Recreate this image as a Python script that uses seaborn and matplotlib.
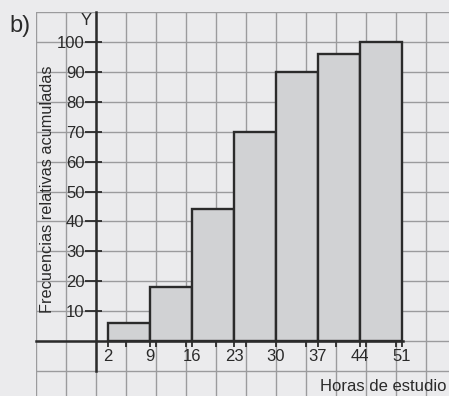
import numpy as np
import seaborn as sns
import matplotlib.pyplot as plt

# datos del histograma (frecuencias relativas acumuladas, %)
bin_edges = [2, 9, 16, 23, 30, 37, 44, 51]
cum_freq = [6, 18, 44, 70, 90, 96, 100]
y_ticks = [10, 20, 30, 40, 50, 60, 70, 80, 90, 100]

BG = '#ebebed'
GRID = '#9b9b9d'
BAR = '#d1d2d4'
DARK = '#2b2b2b'
TXT = '#2a2a2a'


def main():
    sns.set_style('white')
    plt.rcParams['font.family'] = ['Liberation Sans', 'DejaVu Sans']

    fig = plt.figure(figsize=(4.49, 3.96), dpi=100, facecolor=BG)
    ax = fig.add_axes([36 / 449, 0, 413 / 449, 384 / 396])
    ax.set_facecolor(BG)
    ax.set_xlim(-10, -10 + 413 / 6)
    ax.set_ylim(-18.33, 110)

    # cuadricula de papel milimetrado
    for gx in range(-10, 60, 5):
        ax.axvline(gx, color=GRID, lw=1, zorder=0)
    for gy in range(-10, 111, 10):
        ax.axhline(gy, color=GRID, lw=1, zorder=0)

    mids = [(a + b) / 2 for a, b in zip(bin_edges[:-1], bin_edges[1:])]
    sns.histplot(x=mids, weights=cum_freq, bins=bin_edges, ax=ax,
                 color=BAR, edgecolor=DARK, linewidth=1.7, alpha=1, zorder=2)
    ax.set_ylabel('')

    # ejes
    for s in ['top', 'right']:
        ax.spines[s].set_visible(False)
    ax.spines['left'].set_position(('data', 0))
    ax.spines['bottom'].set_position(('data', 0))
    ax.spines['left'].set_bounds(-10, 110)
    ax.spines['bottom'].set_bounds(-10, 51.2)
    for s in ['left', 'bottom']:
        ax.spines[s].set_color(DARK)
        ax.spines[s].set_linewidth(1.8)
        ax.spines[s].set_zorder(3)

    ax.set_xticks(bin_edges)
    ax.set_xticks(list(range(5, 51, 5)), minor=True)
    ax.set_yticks(y_ticks)
    # marcas del eje Y: mas largas hacia fuera que hacia dentro
    ax.yaxis.remove_overlapping_locs = False
    ax.set_yticks(y_ticks, minor=True)
    ax.tick_params(axis='x', which='both', bottom=True, direction='inout', length=8.5,
                   width=1.3, color=DARK, labelsize=12, pad=1.5, labelcolor=TXT)
    ax.tick_params(axis='y', which='major', left=True, direction='out', length=8,
                   width=1.3, color=DARK, labelsize=12, pad=0.3, labelcolor=TXT)
    ax.tick_params(axis='y', which='minor', left=True, direction='in', length=4.2,
                   width=1.3, color=DARK)

    ax.set_xlabel('Horas de estudio', fontsize=12, color=TXT, ha='left', va='baseline')
    ax.xaxis.set_label_coords(284 / 413, 5 / 384)

    ax.text(12 / 413, (396 - 189) / 384, 'Frecuencias relativas acumuladas',
            transform=ax.transAxes, rotation=90, ha='center', va='center',
            fontsize=11.7, color=TXT)
    fig.text(81 / 449, 1 - 25 / 396, 'Y', fontsize=12, color=TXT, va='baseline')
    fig.text(9 / 449, 1 - 32 / 396, 'b)', fontsize=17, color=TXT, va='baseline')

    plt.savefig('out.png', dpi=100, facecolor=BG)


if __name__ == '__main__':
    main()
